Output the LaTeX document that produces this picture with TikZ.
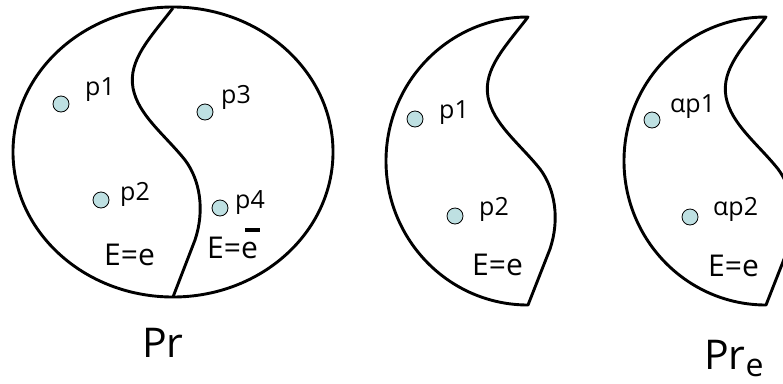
\documentclass[tikz,border=0pt]{standalone}
\usepackage{fontspec}
\setmainfont{Open Sans}
\begin{document}
\begin{tikzpicture}[x=1pt,y=-1pt,
  outline/.style={line width=2.9pt,black,line join=round},
  pt/.style={circle,draw=black,line width=0.8pt,fill=dotfill,minimum size=16pt,inner sep=0pt},
  lbl/.style={anchor=base west,inner sep=0pt,font=\fontsize{25}{25}\selectfont},
  elbl/.style={anchor=base west,inner sep=0pt,font=\fontsize{30}{30}\selectfont},
  big/.style={anchor=base west,inner sep=0pt,font=\fontsize{41}{41}\selectfont}]
\definecolor{dotfill}{RGB}{190,224,226}
\clip (0,0) rectangle (783,383);
\fill[white] (0,0) rectangle (783,383);
% ---------- Pr : full ellipse ----------
\draw[outline] (173,152) ellipse [x radius=160, y radius=145];
\draw[outline] (173,8) .. controls (150,38) and (128,60) .. (133,88)
  .. controls (138,115) and (165,135) .. (185,160)
  .. controls (200,180) and (205,210) .. (195,240) -- (173,297);
\node[pt] (a1) at (61,104) {};
\node[pt] (a3) at (205,112) {};
\node[pt] (a2) at (101,200) {};
\node[pt] (a4) at (220,208) {};
\node[lbl] (la1) at (85,95) {p1};
\node[lbl] (la3) at (221,103) {p3};
\node[lbl] (la2) at (120,200) {p2};
\node[lbl] (la4) at (235,208) {p4};
\node[elbl] (ea) at (104,265) {E=e};
\node[elbl] (eb) at (207,258) {E=e};
\fill (245,228) rectangle (260,232);
\node[big] (pr) at (142,357) {Pr};
% ---------- second shape ----------
\begin{scope}[shift={(355,9)}]
\draw[outline] (173,8) arc[start angle=270, end angle=90, x radius=142, y radius=144]
  -- (195,240) .. controls (205,210) and (200,180) .. (185,160)
  .. controls (165,135) and (138,115) .. (133,88)
  .. controls (128,60) and (150,38) .. cycle;
\end{scope}
\node[pt] (b1) at (415,119) {};
\node[pt] (b2) at (455,216) {};
\node[lbl] (lb1) at (439,118) {p1};
\node[lbl] (lb2) at (479,215) {p2};
\node[elbl] (ec) at (472,275) {E=e};
% ---------- third shape ----------
\begin{scope}[shift={(593,9)}]
\draw[outline] (173,8) arc[start angle=270, end angle=90, x radius=142, y radius=144]
  -- (195,240) .. controls (205,210) and (200,180) .. (185,160)
  .. controls (165,135) and (138,115) .. (133,88)
  .. controls (128,60) and (150,38) .. cycle;
\end{scope}
\node[pt] (c1) at (652,120) {};
\node[pt] (c2) at (690,217) {};
\node[lbl] (lc1) at (670,112) {αp1};
\node[lbl] (lc2) at (713,215) {αp2};
\node[elbl] (ed) at (708,276) {E=e};
\node[big] (pre) at (704,369) {Pr\raisebox{-7pt}{\fontsize{32}{32}\selectfont e}};
\end{tikzpicture}
\end{document}
